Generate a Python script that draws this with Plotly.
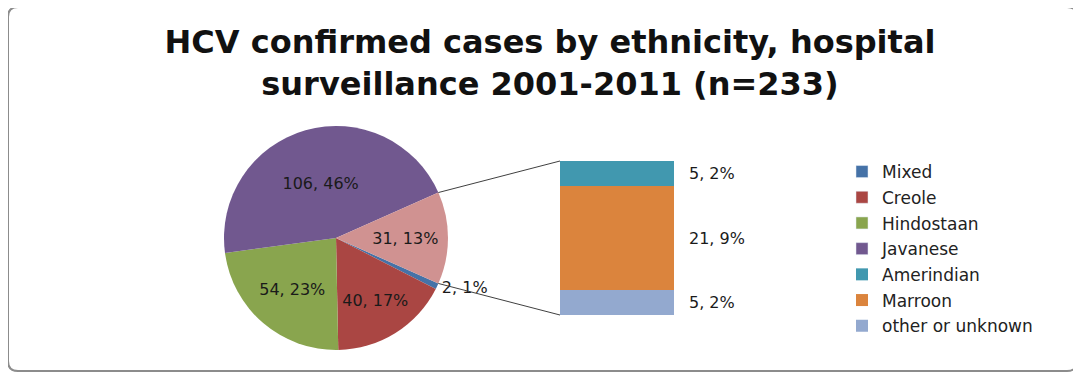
import math
import plotly.graph_objects as go

# ---------------- data ----------------
title_lines = ["HCV confirmed cases by ethnicity, hospital",
               "surveillance 2001-2011 (n=233)"]

pie_labels = ["Mixed", "Creole", "Hindostaan", "Javanese", "Other"]
pie_values = [2, 40, 54, 106, 31]
pie_percent = [1, 17, 23, 46, 13]
pie_colors = ["#4572A7", "#AA4643", "#89A54E", "#71588F", "#D09291"]

bar_labels = ["Amerindian", "Marroon", "other or unknown"]   # top -> bottom
bar_values = [5, 21, 5]
bar_percent = [2, 9, 2]
bar_colors = ["#4198AF", "#DB843D", "#93A9CF"]

legend_labels = ["Mixed", "Creole", "Hindostaan", "Javanese",
                 "Amerindian", "Marroon", "other or unknown"]

# ---------------- layout geometry (window pixels) ----------------
W, H = 1081, 374
OFF = 8                                   # page body margin
cx, cy, R = 336, 238, 112                 # pie centre / radius
bx0, bx1, by0, by1 = 560, 674, 161, 315   # bar box


def px(x):
    return (x - OFF) / W


def py(y):
    return 1 - (y - OFF) / H


total = sum(pie_values)
other_value = pie_values[-1]
other_half = 180 * other_value / total
rotation = 90 + other_half               # "Other" slice centred at 3 o'clock

fig = go.Figure()

pie_text = [f"{v}, {p}%" for v, p in zip(pie_values, pie_percent)]
fig.add_trace(go.Pie(
    labels=pie_labels, values=pie_values, text=pie_text,
    textinfo="text", sort=False, direction="clockwise", rotation=rotation,
    marker=dict(colors=pie_colors, line=dict(width=0)),
    textposition=["outside", "inside", "inside", "inside", "inside"],
    insidetextorientation="horizontal",
    textfont=dict(family="DejaVu Sans", size=16, color="#1a1a1a"),
    domain=dict(x=[px(cx - R), px(cx + R)], y=[py(cy + R), py(cy - R)]),
    showlegend=False, hoverinfo="label+value+percent",
))

# legend entries for the pie categories
for i, lab in enumerate(pie_labels[:-1]):
    fig.add_trace(go.Bar(
        x=[None], y=[None], name=lab, marker_color=pie_colors[i],
        legendrank=i + 1, legendgroup=lab, showlegend=True,
        xaxis="x", yaxis="y",
    ))

# stacked bar (bottom segment first)
for j in reversed(range(len(bar_labels))):
    lab = bar_labels[j]
    fig.add_trace(go.Bar(
        x=["Other"], y=[bar_values[j]], name=lab,
        marker=dict(color=bar_colors[j], line=dict(width=0)),
        legendrank=legend_labels.index(lab) + 1, legendgroup=lab,
        xaxis="x", yaxis="y",
    ))

# bar labels
cum = 0
mids = {}
for j in reversed(range(len(bar_labels))):
    mids[j] = cum + bar_values[j] / 2
    cum += bar_values[j]
annotations = []
for j in range(len(bar_labels)):
    annotations.append(dict(
        xref="x domain", x=1, yref="y", y=mids[j], xanchor="left",
        xshift=13, showarrow=False,
        text=f"{bar_values[j]}, {bar_percent[j]}%",
        font=dict(family="DejaVu Sans", size=16, color="#1a1a1a"),
    ))

a_top = math.radians(90 - other_half)
a_bot = math.radians(90 + other_half)
p_top = (cx + R * math.sin(a_top), cy - R * math.cos(a_top))
p_bot = (cx + R * math.sin(a_bot), cy - R * math.cos(a_bot))

shapes = [
    dict(type="line", xref="paper", yref="paper",
         x0=px(p_top[0]), y0=py(p_top[1]), x1=px(bx0), y1=py(by0),
         line=dict(color="#404040", width=1)),
    dict(type="line", xref="paper", yref="paper",
         x0=px(p_bot[0]), y0=py(p_bot[1]), x1=px(bx0), y1=py(by1),
         line=dict(color="#404040", width=1)),
]

# rounded chart border
L, T, Rr, B, rc = 8, 7, 1077, 371, 10
path = (f"M {px(L + rc)},{py(T)} L {px(Rr - rc)},{py(T)} "
        f"Q {px(Rr)},{py(T)} {px(Rr)},{py(T + rc)} "
        f"L {px(Rr)},{py(B - rc)} Q {px(Rr)},{py(B)} {px(Rr - rc)},{py(B)} "
        f"L {px(L + rc)},{py(B)} Q {px(L)},{py(B)} {px(L)},{py(B - rc)} "
        f"L {px(L)},{py(T + rc)} Q {px(L)},{py(T)} {px(L + rc)},{py(T)} Z")
shapes.append(dict(type="path", xref="paper", yref="paper", path=path,
                   line=dict(color="#8C8C8C", width=2)))

fig.update_layout(
    width=W, height=H,
    margin=dict(l=0, r=0, t=0, b=0),
    paper_bgcolor="white", plot_bgcolor="white",
    barmode="stack", bargap=0,
    title=dict(text="<br>".join(title_lines), x=px(550), y=py(53),
               xanchor="center", yanchor="middle",
               font=dict(family="DejaVu Sans", size=32, weight="bold",
                         color="#111")),
    xaxis=dict(type="category", domain=[px(bx0), px(bx1)], range=[-0.5, 0.5],
               visible=False, fixedrange=True),
    yaxis=dict(domain=[py(by1), py(by0)], range=[0, other_value],
               visible=False, fixedrange=True),
    legend=dict(x=px(842), y=py(154), xanchor="left", yanchor="top",
                traceorder="grouped", tracegroupgap=0.6,
                font=dict(family="DejaVu Sans", size=17, color="#222"),
                bgcolor="rgba(0,0,0,0)"),
    annotations=annotations,
    shapes=shapes,
    showlegend=True,
)

fig.write_html("out.html")
